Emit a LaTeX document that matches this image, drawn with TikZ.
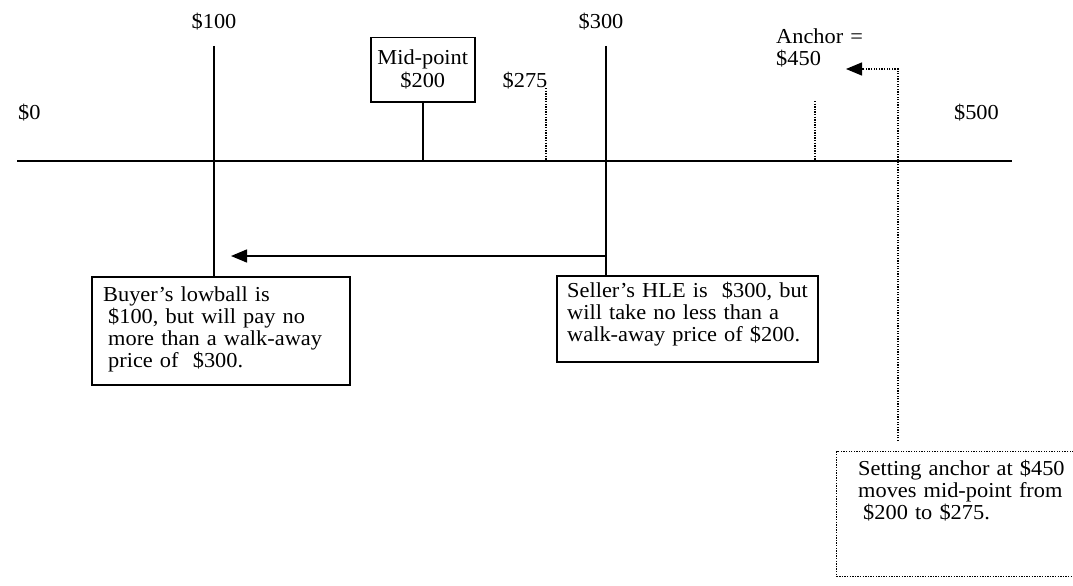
\documentclass[tikz,border=0pt]{standalone}
\usepackage{fontspec}
\setmainfont{Liberation Serif}[FakeStretch=1.05]
\usetikzlibrary{arrows.meta}
\begin{document}
\begin{tikzpicture}[x=1pt,y=-1pt,
  solid line/.style={line width=1.5pt},
  dot line/.style={line width=1.3pt, dash pattern=on 1.3pt off 1.3pt},
  lbl/.style={inner sep=0pt, font=\fontsize{21.3}{22}\selectfont},
  para/.style={lbl, anchor=base west, text width=#1, align=left},
  tip/.style={-{Triangle[length=16pt,width=13pt]}}
]
\useasboundingbox (0,0) rectangle (1073,586);
% axis
\coordinate (a0) at (17,161);
\coordinate (a1) at (1012,161);
\draw[solid line] (a0) -- (a1);
\node[lbl, anchor=base west] (l0) at (18,119) {\$0};
\node[lbl, anchor=base east] (l500) at (999,119) {\$500};
% top labels
\node[lbl, anchor=base] (l100) at (214,29) {\$100};
\node[lbl, anchor=base] (l300) at (601,29) {\$300};
% boxes
\node[draw, solid line, minimum width=258pt, minimum height=108pt, anchor=north west, inner sep=0pt] (buyer) at (91,276) {};
\node[draw, solid line, minimum width=261pt, minimum height=86pt, anchor=north west, inner sep=0pt] (seller) at (556,275) {};
\node[draw, dot line, minimum width=260pt, minimum height=125pt, anchor=north west, inner sep=0pt] (note) at (836,451) {};
\node[draw, solid line, minimum width=104pt, minimum height=64pt, anchor=north west, inner sep=0pt] (mid) at (370,37) {};
% texts
\node[para=250pt] (buyertext) at (103,301) {Buyer’s lowball is\\\hspace*{5pt}\$100, but will pay no\\\hspace*{5pt}more than a walk-away\\\hspace*{5pt}price of~ \$300.};
\node[para=250pt] (sellertext) at (567,297) {Seller’s HLE is~ \$300, but\\will take no less than a\\walk-away price of \$200.};
\node[para=230pt] (notetext) at (858,475) {Setting anchor at \$450\\moves mid-point from\\\hspace*{5pt}\$200 to \$275.};
\node[lbl, anchor=base] (midtext1) at (mid.north |- 0,65) {Mid-point};
\node[lbl, anchor=base] (midtext2) at (mid.north |- 0,88) {\$200};
\node[lbl, anchor=base] (l275) at (525,87) {\$275};
\node[para=100pt] (anchortext) at (776,44) {Anchor =\\\$450};
% vertical lines
\coordinate (t100) at (214,46);
\coordinate (t300) at (606,46);
\draw[solid line] (t100) -- (buyer.north -| t100);
\draw[solid line] (t300) -- (seller.north -| t300);
\draw[solid line] (mid.south) -- (mid.south |- a0);
\coordinate (d275a) at (546,88);
\coordinate (d275b) at (546,161);
\draw[dot line] (d275a) -- (d275b);
\coordinate (d450a) at (815,101);
\coordinate (d450b) at (815,161);
\draw[dot line] (d450a) -- (d450b);
% arrows
\coordinate (arrS) at (606,256);
\coordinate (arrE) at (231,256);
\draw[solid line, tip] (arrS) -- (arrE);
\coordinate (dA) at (898,441);
\coordinate (dB) at (898,69);
\coordinate (dC) at (846,69);
\draw[dot line, tip] (dA) -- (dB) -- (dC);
\end{tikzpicture}
\end{document}
